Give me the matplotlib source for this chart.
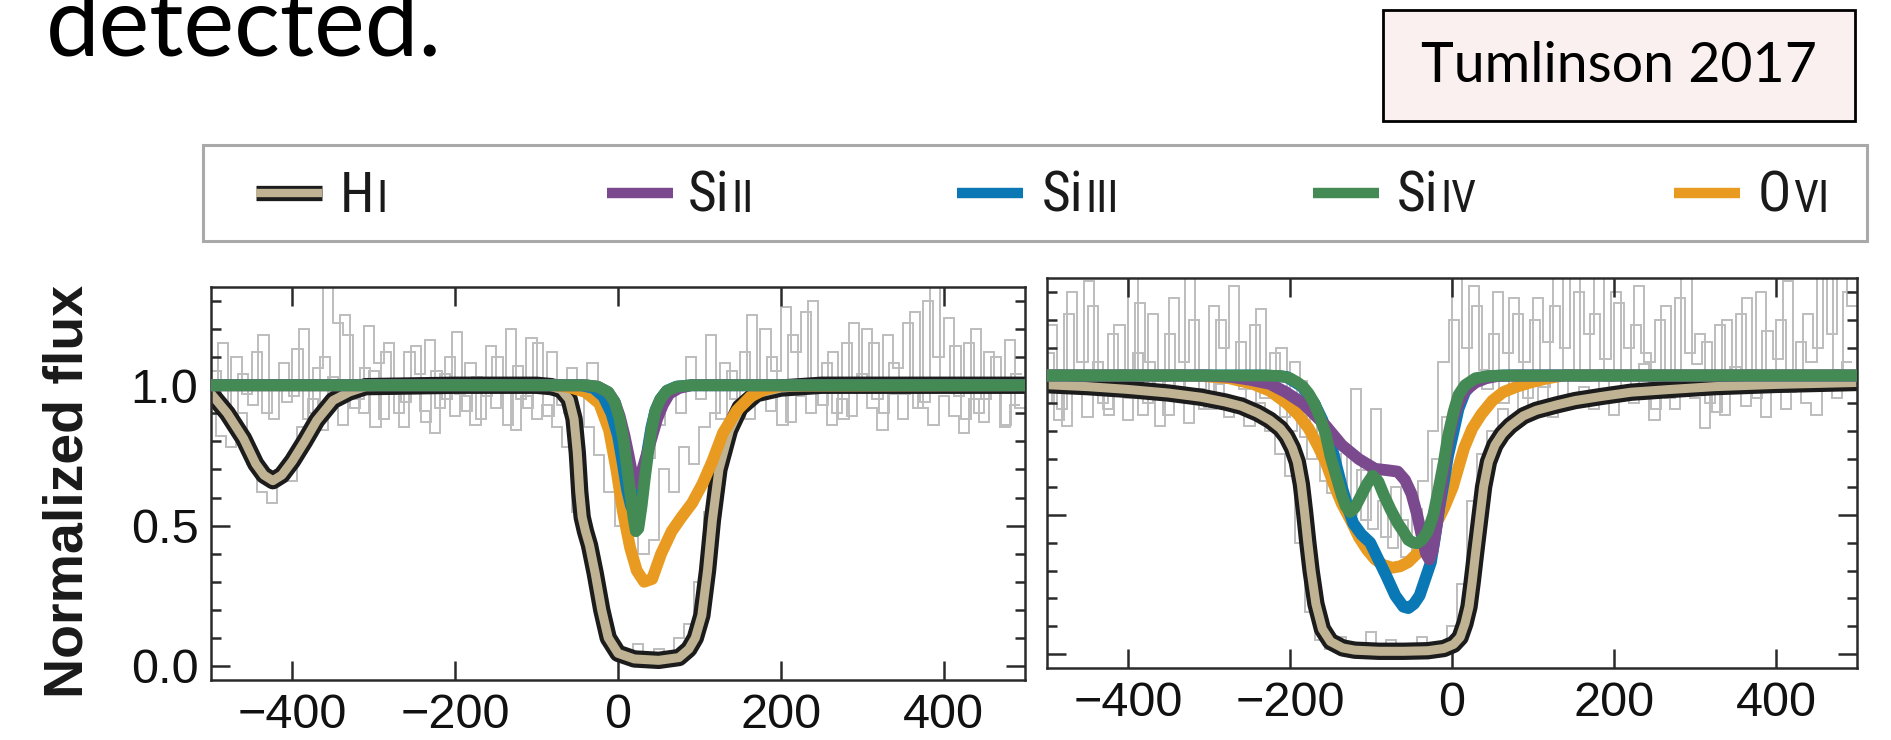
import numpy as np
import matplotlib.pyplot as plt
from matplotlib.patches import Rectangle
from matplotlib.lines import Line2D
from matplotlib.ticker import MultipleLocator

W, H, DPI = 1891, 740, 100
plt.rcParams['font.family'] = ['Liberation Sans', 'DejaVu Sans']

# ---- noisy spectra (gray stairs), 12.5 km/s bins ----
gray_left_a = [1.05, 0.92, 1.10, 0.97, 1.12, 0.90, 1.02, 0.94, 1.13, 0.88,
               1.06, 1.40, 1.22, 1.18, 0.95, 1.21, 1.08, 1.15, 0.90, 1.12,
               1.04, 1.16, 0.92, 1.10, 0.97, 1.08, 0.88, 1.14, 1.02, 1.20,
               0.95, 1.17, 1.00, 1.12, 0.93, 1.06, 0.97, 1.08, 0.90, 0.80,
               0.68, 0.52, 0.40, 0.45, 0.70, 0.62, 0.78, 0.72, 0.85, 0.90,
               1.08, 0.95, 1.12, 0.97, 1.20, 1.05, 1.28, 1.12, 1.26, 0.98,
               1.08, 0.90, 1.15, 1.02, 1.20, 0.95, 1.18, 1.06, 1.22, 0.92,
               1.30, 1.10, 1.24, 0.96, 1.15, 0.90, 1.12, 0.98, 1.16, 0.92]
gray_left_b = [0.95, 0.82, 0.78, 0.90, 0.72, 0.62, 0.58, 0.70, 0.66, 0.85,
               0.95, 0.84, 1.03, 0.86, 0.98, 0.90, 1.05, 0.88, 0.97, 0.85,
               0.99, 0.91, 0.83, 1.04, 0.89, 0.96, 0.86, 1.02, 0.92, 0.98,
               0.84, 0.96, 0.88, 0.93, 0.85, 0.78, 0.55, 0.42, 0.25, 0.12,
               0.05, 0.02, 0.08, 0.03, 0.06, 0.02, 0.10, 0.15, 0.30, 0.55,
               0.72, 0.85, 0.93, 0.88, 0.98, 0.91, 1.02, 0.87, 0.96, 0.90,
               1.00, 0.86, 0.95, 0.89, 1.04, 0.92, 0.84, 0.97, 0.88, 1.02,
               0.92, 0.86, 0.96, 0.89, 0.83, 0.95, 0.87, 0.98, 0.85, 0.93]
gray_left_c = [0.98, 1.15, 0.86, 1.04, 0.93, 1.18, 0.88, 1.08, 0.96, 1.20,
               0.90, 1.10, 0.98, 1.25, 0.92, 1.06, 0.85, 1.12, 1.00, 0.94,
               1.14, 0.87, 1.05, 0.95, 1.19, 0.91, 1.03, 0.96, 1.10, 0.86,
               1.07, 0.92, 1.15, 0.89, 1.02, 0.90, 0.98, 0.85, 0.75, 0.62,
               0.50, 0.48, 0.58, 0.74, 0.86, 0.96, 0.90, 1.10, 0.95, 1.18,
               0.88, 1.05, 0.92, 1.25, 0.96, 1.10, 0.86, 1.18, 0.98, 1.30,
               0.93, 1.12, 0.88, 1.22, 1.00, 1.15, 0.90, 1.08, 0.97, 1.26,
               0.94, 1.36, 1.02, 1.14, 0.88, 1.20, 0.95, 1.10, 0.86, 1.04]
gray_right_a = [1.18, 0.88, 1.30, 1.05, 1.25, 0.90, 1.15, 1.02, 1.36, 0.86,
                1.22, 0.98, 1.28, 1.05, 1.20, 0.88, 1.25, 1.10, 1.32, 0.95,
                1.18, 0.92, 1.08, 0.85, 1.05, 0.78, 0.90, 0.62, 0.72, 0.55,
                0.95, 0.48, 0.88, 0.42, 0.60, 0.35, 0.52, 0.45, 0.70, 0.85,
                1.38, 1.10, 1.25, 0.95, 1.30, 1.08, 1.22, 0.92, 1.28, 1.12,
                1.36, 1.02, 1.30, 1.15, 1.35, 0.98, 1.26, 1.10, 1.32, 1.05,
                1.20, 0.92, 1.28, 1.08, 1.15, 0.90, 1.18, 0.95, 1.22, 1.02,
                1.30, 0.98, 1.20, 0.94, 1.12, 1.05, 1.36, 1.15, 1.38, 1.25]
gray_right_b = [0.90, 1.02, 0.82, 0.96, 0.85, 1.05, 0.88, 0.97, 0.84, 1.08,
                0.90, 0.98, 0.86, 1.02, 0.83, 0.95, 0.88, 0.97, 0.85, 0.92,
                0.82, 0.90, 0.80, 0.72, 0.64, 0.40, 0.15, 0.05, 0.02, 0.06,
                0.01, 0.04, 0.08, 0.02, 0.05, 0.00, 0.03, 0.06, 0.02, 0.04,
                0.10, 0.25, 0.55, 0.72, 0.80, 0.88, 0.82, 0.95, 0.87, 0.98,
                0.85, 1.00, 0.90, 0.96, 0.88, 1.02, 0.86, 0.94, 0.90, 1.04,
                0.84, 0.97, 0.88, 1.00, 0.92, 0.81, 0.95, 0.86, 1.03, 0.89,
                0.98, 0.85, 0.96, 0.88, 1.00, 0.90, 0.86, 0.97, 0.92, 1.05]
gray_right_c = [1.08, 0.84, 1.22, 0.95, 1.34, 1.00, 0.86, 1.18, 0.92, 1.26,
                1.05, 0.82, 1.15, 0.94, 1.36, 1.02, 0.88, 1.20, 0.98, 1.12,
                0.86, 1.24, 0.95, 1.10, 0.80, 0.98, 0.70, 0.82, 0.58, 0.75,
                0.50, 0.66, 0.45, 0.55, 0.38, 0.48, 0.40, 0.62, 0.80, 1.05,
                1.20, 0.95, 1.32, 1.02, 1.15, 0.90, 1.28, 1.05, 1.20, 0.96,
                1.25, 1.10, 1.36, 0.98, 1.22, 1.06, 1.30, 0.94, 1.18, 1.08,
                0.88, 1.25, 0.98, 1.35, 1.04, 1.12, 0.87, 1.20, 1.00, 1.28,
                0.92, 1.16, 1.06, 1.34, 0.96, 1.22, 1.10, 1.38, 1.02, 1.30]

# ---- model fits, left sightline ----
hi_left_v = [-500, -480, -460, -445, -435, -424, -413, -400, -385, -370, -350, -330, -310,
             -200, -100, -82, -70, -60, -54, -50, -47, -44, -40, -35, -28, -20, -12, 0,
             20, 50, 75, 87, 95, 103, 110, 116, 124, 137, 150, 170, 200, 250, 500]
hi_left_f = [0.97, 0.90, 0.81, 0.72, 0.68, 0.66, 0.68, 0.73, 0.80, 0.875, 0.946, 0.976, 0.995,
             1.0, 1.0, 0.995, 0.985, 0.95, 0.88, 0.76, 0.62, 0.53, 0.48, 0.43, 0.33, 0.20, 0.10, 0.045,
             0.025, 0.02, 0.03, 0.06, 0.10, 0.18, 0.34, 0.52, 0.70, 0.84, 0.92, 0.97, 0.99, 1.0, 1.0]
si2_left_v = [-500, -40, -25, -12, -4, 2, 8, 13, 17, 21, 25, 30, 36, 42, 48, 55, 63, 75, 90, 500]
si2_left_f = [1.0, 1.0, 0.995, 0.975, 0.94, 0.89, 0.82, 0.75, 0.69, 0.65, 0.65, 0.70, 0.76, 0.82,
              0.88, 0.93, 0.97, 0.99, 1.0, 1.0]
si3_left_v = [-500, -45, -30, -18, -8, 0, 6, 11, 16, 21, 25, 29, 33, 37, 41, 46, 52, 60, 72, 90,
              500]
si3_left_f = [1.0, 1.0, 0.99, 0.96, 0.90, 0.82, 0.72, 0.63, 0.57, 0.545, 0.58, 0.62, 0.70, 0.78,
              0.85, 0.91, 0.95, 0.98, 0.995, 1.0, 1.0]
si4_left_v = [-500, -40, -25, -12, -4, 2, 7, 11, 15, 19, 22, 25, 29, 33, 37, 41, 46, 52, 60,
              72, 90, 500]
si4_left_f = [1.0, 1.0, 0.995, 0.975, 0.94, 0.88, 0.80, 0.71, 0.62, 0.53, 0.48, 0.49, 0.57, 0.67,
              0.76, 0.84, 0.91, 0.95, 0.98, 0.995, 1.0, 1.0]
o6_left_v = [-500, -80, -61, -40, -23, -11, -2, 6, 15, 23, 32, 42, 53, 66, 78, 91, 104, 116,
             129, 146, 163, 180, 200, 500]
o6_left_f = [1.0, 1.0, 0.994, 0.976, 0.935, 0.84, 0.70, 0.55, 0.42, 0.34, 0.30, 0.31, 0.40, 0.48,
             0.53, 0.58, 0.65, 0.73, 0.83, 0.91, 0.96, 0.985, 0.998, 1.0]

# ---- model fits, right sightline ----
hi_right_v = [-500, -450, -400, -350, -310, -280, -260, -240, -225, -212, -204, -197, -191, -186,
              -182, -178, -174, -168, -160, -150, -135, -120, -90, -60, -30, -10, 2, 10, 16, 21,
              25, 29, 34, 39, 45, 53, 62, 72, 88, 104, 130, 152, 185, 221, 270, 324, 400, 500]
hi_right_f = [0.967, 0.96, 0.95, 0.937, 0.922, 0.905, 0.89, 0.865, 0.84, 0.81, 0.78, 0.74, 0.69,
              0.61, 0.51, 0.40, 0.30, 0.18, 0.09, 0.045, 0.022, 0.014, 0.01, 0.01, 0.012, 0.02,
              0.035, 0.06, 0.11, 0.17, 0.26, 0.36, 0.48, 0.60, 0.69, 0.75, 0.79, 0.82, 0.855,
              0.875, 0.895, 0.91, 0.925, 0.94, 0.95, 0.96, 0.968, 0.975]
si2_right_v = [-500, -300, -273, -250, -225, -205, -184, -170, -156, -136, -115, -95, -80, -67,
               -58, -50, -43, -37, -32, -28, -24, -19, -12, -5, 2, 8, 16, 29, 42, 56, 80, 500]
si2_right_f = [1.0, 1.0, 0.995, 0.985, 0.97, 0.94, 0.90, 0.86, 0.82, 0.75, 0.70, 0.665, 0.66,
               0.655, 0.625, 0.575, 0.50, 0.42, 0.36, 0.34, 0.37, 0.46, 0.62, 0.76, 0.85, 0.90,
               0.945, 0.975, 0.99, 0.998, 1.0, 1.0]
si3_right_v = [-500, -230, -204, -185, -170, -160, -150, -143, -136, -129, -122, -112, -101, -91,
               -81, -70, -60, -54, -47, -40, -33, -26, -21, -16, -10, -5, 2, 8, 16, 29, 45, 63, 500]
si3_right_f = [1.0, 1.0, 0.995, 0.96, 0.90, 0.84, 0.76, 0.68, 0.60, 0.53, 0.47, 0.43, 0.40, 0.34,
               0.28, 0.21, 0.17, 0.165, 0.18, 0.21, 0.27, 0.33, 0.42, 0.52, 0.62, 0.71, 0.80, 0.88,
               0.94, 0.985, 0.997, 1.0, 1.0]
si4_right_v = [-500, -230, -211, -200, -191, -184, -177, -170, -163, -156, -150, -143, -136, -131,
               -126, -120, -112, -105, -98, -91, -84, -76, -67, -60, -54, -48, -43, -37, -30, -23,
               -16, -10, -5, 2, 8, 16, 29, 45, 63, 500]
si4_right_f = [1.0, 1.0, 0.998, 0.99, 0.975, 0.96, 0.935, 0.90, 0.85, 0.79, 0.71, 0.64, 0.57, 0.53,
               0.51, 0.525, 0.57, 0.61, 0.64, 0.62, 0.57, 0.52, 0.47, 0.44, 0.41, 0.40, 0.398, 0.41,
               0.44, 0.50, 0.60, 0.69, 0.78, 0.87, 0.93, 0.965, 0.99, 0.998, 1.0, 1.0]
o6_right_v = [-500, -330, -307, -275, -246, -225, -204, -190, -177, -166, -156, -146, -136, -125,
              -115, -105, -95, -85, -74, -64, -54, -47, -40, -30, -19, -9, 1, 8, 15, 25, 36, 50,
              63, 80, 97, 118, 138, 500]
o6_right_f = [1.0, 1.0, 0.998, 0.99, 0.97, 0.945, 0.90, 0.86, 0.81, 0.75, 0.69, 0.61, 0.54, 0.48,
              0.42, 0.375, 0.34, 0.32, 0.31, 0.315, 0.33, 0.35, 0.37, 0.41, 0.47, 0.53, 0.60, 0.67,
              0.74, 0.81, 0.86, 0.91, 0.94, 0.96, 0.975, 0.99, 1.0, 1.0]

ions = [("H", "I"), ("Si", "II"), ("Si", "III"), ("Si", "IV"), ("O", "VI")]

C_HI, C_HI_EDGE = "#bfb394", "#1c1c1c"
C_SI2, C_SI3, C_SI4, C_O6 = "#7b4a8e", "#0a78b5", "#438a55", "#e89b20"
C_GRAY = "#bdbdbd"
SPINE = "#2a2a2a"

fig = plt.figure(figsize=(W / DPI, H / DPI), dpi=DPI)
ax_l = fig.add_axes([211 / W, 1 - 680 / H, 814 / W, 393 / H])
ax_r = fig.add_axes([1047 / W, 1 - 668 / H, 810 / W, 390 / H])

edges_a = np.linspace(-500, 500, 81)
edges_b = np.linspace(-506.25, 493.75, 81)
edges_c = np.linspace(-504.2, 495.8, 81)


def draw_panel(ax, grays, hi, o6, si3, si2, si4):
    for g, e in zip(grays, (edges_a, edges_b, edges_c)):
        ax.stairs(g, e, baseline=None, color=C_GRAY, lw=1.4, zorder=1)
    ax.plot(*hi, color=C_HI_EDGE, lw=12.5, zorder=2, solid_joinstyle='round')
    ax.plot(*hi, color=C_HI, lw=6.5, zorder=2.1, solid_joinstyle='round')
    ax.plot(*o6, color=C_O6, lw=8.5, zorder=3)
    ax.plot(*si3, color=C_SI3, lw=8.5, zorder=4)
    ax.plot(*si2, color=C_SI2, lw=8.5, zorder=5)
    ax.plot(*si4, color=C_SI4, lw=8.5, zorder=6)


def style_axes(ax, ylabels):
    ax.set_xlim(-500, 500)
    ax.set_ylim(-0.05, 1.35)
    ax.xaxis.set_major_locator(MultipleLocator(200))
    ax.yaxis.set_major_locator(MultipleLocator(0.5))
    ax.yaxis.set_minor_locator(MultipleLocator(0.1))
    ax.tick_params(which='both', direction='in', top=True, right=True,
                   color=SPINE, width=1.8, labelcolor="#111111")
    ax.tick_params(which='major', length=14, pad=9, labelsize=35)
    ax.tick_params(which='minor', length=7)
    ax.tick_params(axis='y', labelleft=ylabels)
    for s in ax.spines.values():
        s.set_color(SPINE)
        s.set_linewidth(1.8)


draw_panel(ax_l, (gray_left_a, gray_left_b, gray_left_c), (hi_left_v, hi_left_f),
           (o6_left_v, o6_left_f), (si3_left_v, si3_left_f), (si2_left_v, si2_left_f),
           (si4_left_v, si4_left_f))
draw_panel(ax_r, (gray_right_a, gray_right_b, gray_right_c), (hi_right_v, hi_right_f),
           (o6_right_v, o6_right_f), (si3_right_v, si3_right_f), (si2_right_v, si2_right_f),
           (si4_right_v, si4_right_f))
style_axes(ax_l, True)
style_axes(ax_r, False)

fig.text(69 / W, 1 - 491 / H, "Normalized flux", rotation=90, ha='center', va='center',
         fontsize=40, fontweight='bold', color="#1a1a1a")

# slide text and citation box
fig.text(46 / W, 1 - 56 / H, "detected.", fontsize=69, family=['Lato', 'DejaVu Sans'],
         fontweight='normal', va='baseline', ha='left', color='black')
fig.add_artist(Rectangle((1383 / W, 1 - 121 / H), 472 / W, 111 / H, transform=fig.transFigure,
                         facecolor="#f9f0ef", edgecolor="black", lw=2))
fig.text(1619 / W, 1 - 66 / H, "Tumlinson 2017", fontsize=40, family=['Lato', 'DejaVu Sans'],
         ha='center', va='center', color='black')

# legend box
fig.add_artist(Rectangle((203 / W, 1 - 241 / H), 1664 / W, 96 / H, transform=fig.transFigure,
                         facecolor="white", edgecolor="#a9a9a9", lw=2.2))
handle_x = [256, 607, 957, 1313, 1674]
text_x = [340, 688, 1042, 1397, 1758]
colors = [C_HI, C_SI2, C_SI3, C_SI4, C_O6]
yh = 1 - 193 / H
yb = 1 - 212 / H
LEG_FONT = ['Liberation Sans Narrow', 'DejaVu Sans Condensed', 'Roboto Condensed', 'DejaVu Sans']
renderer = fig.canvas.get_renderer()
for (elem, num), hx, tx, c in zip(ions, handle_x, text_x, colors):
    xs = [hx / W, (hx + 66) / W]
    if elem == "H":
        fig.add_artist(Line2D(xs, [yh, yh], transform=fig.transFigure, color=C_HI_EDGE,
                              lw=11, solid_capstyle='butt'))
        fig.add_artist(Line2D(xs, [yh, yh], transform=fig.transFigure, color=c,
                              lw=6, solid_capstyle='butt'))
    else:
        fig.add_artist(Line2D(xs, [yh, yh], transform=fig.transFigure, color=c,
                              lw=7.5, solid_capstyle='butt'))
    t = fig.text(tx / W, yb, elem, fontsize=40, family=LEG_FONT, fontstretch='condensed',
                 va='baseline', ha='left', color="#1a1a1a")
    bb = t.get_window_extent(renderer)
    fig.text(bb.x1 / W + 2 / W, yb, num, fontsize=32, family=LEG_FONT, fontstretch='condensed',
             va='baseline', ha='left', color="#1a1a1a")

fig.savefig("out.png", dpi=DPI)
